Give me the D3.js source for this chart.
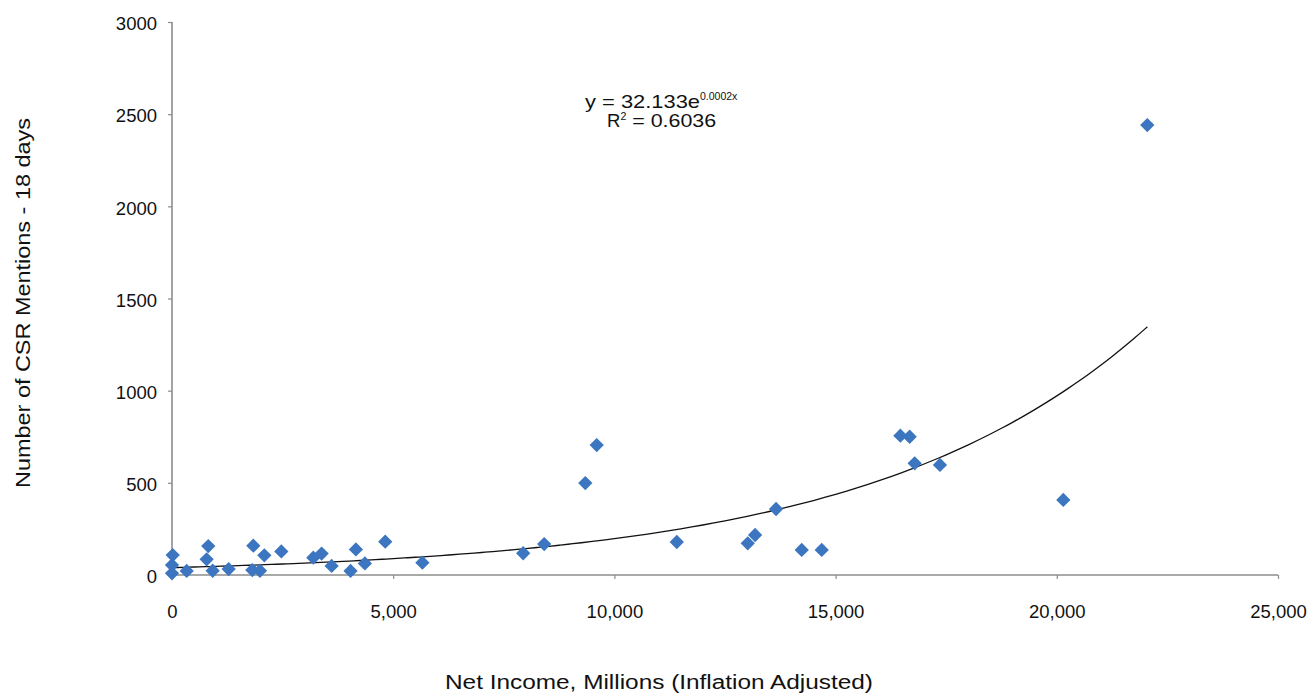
<!DOCTYPE html>
<html>
<head>
<meta charset="utf-8">
<script src="https://cdn.jsdelivr.net/npm/d3@7"></script>
<style>
  body { margin: 0; background: #fff; }
  text { font-family: "Liberation Sans", Arial, Helvetica, sans-serif; fill: #111; }
</style>
</head>
<body>
<script>
// net income (millions, inflation adjusted) and CSR mentions over 18 days
var incomeValues = [16, 0, 0, 332, 820, 783, 919, 1280, 1838, 1815, 1988, 2087, 2471,
                    3194, 3382, 3608, 4036, 4157, 4360, 4820, 5660, 7938, 8413, 9342,
                    9600, 11410, 13014, 13180, 13654, 14234, 14686, 16464, 16674, 16787,
                    17359, 20147, 22045];
var mentionValues = [108, 54, 9, 22, 157, 85, 23, 32, 159, 27, 23, 107, 128,
                     94, 116, 49, 22, 139, 63, 181, 67, 118, 168, 499,
                     705, 179, 172, 217, 358, 136, 136, 756, 750, 606,
                     597, 407, 2441];

var xTicks = [0, 5000, 10000, 15000, 20000, 25000];
var yTicks = [0, 500, 1000, 1500, 2000, 2500, 3000];

// exponential trendline y = a * e^(b x)
var trendA = 40;
var trendB = 0.0001595;

var width = 1307;
var height = 694;

var svg = d3.select('body')
            .append('svg')
            .attr('width', width)
            .attr('height', height)

var x = d3.scaleLinear().domain([0, 25000]).range([172, 1278]);
var y = d3.scaleLinear().domain([0, 3000]).range([575, 22]);

// axes
var xAxis = svg.append('g')
            .attr('transform', 'translate(0,' + y(0) + ')')
            .call(d3.axisBottom(x).tickValues(xTicks).tickSize(4).tickPadding(26)
                  .tickFormat(d3.format(',')))
var yAxis = svg.append('g')
            .attr('transform', 'translate(' + x(0) + ',0)')
            .call(d3.axisLeft(y).tickValues(yTicks).tickSize(4).tickPadding(11)
                  .tickFormat(d3.format('d')))

svg.selectAll('.domain')
   .attr('stroke', '#8c8c8c')
   .attr('stroke-width', 1.6)
svg.selectAll('.tick line')
   .attr('stroke', '#8c8c8c')
   .attr('stroke-width', 1.2)
svg.selectAll('.tick text')
   .attr('font-size', '18.5px')
   .attr('font-family', '"Liberation Sans", Arial, sans-serif')
   .attr('fill', '#111')
yAxis.selectAll('.tick text').attr('dy', '0.42em')
xAxis.select('.domain').attr('d', 'M' + x(0) + ',0H' + x(25000))
yAxis.select('.domain').attr('d', 'M0,' + y(0) + 'V' + y(3000))

// trendline
var trendX = d3.range(0, d3.max(incomeValues) + 1, 250);
trendX.push(d3.max(incomeValues));
var line = d3.line()
            .x(function(d) { return x(d); })
            .y(function(d) { return y(trendA * Math.exp(trendB * d)); })
            .curve(d3.curveMonotoneX);
svg.append('path')
   .attr('fill', 'none')
   .attr('stroke', '#111')
   .attr('stroke-width', 1.3)
   .attr('d', line(trendX))

// points
var diamond = d3.symbol().type(d3.symbolDiamond2).size(130);
svg.selectAll('path.pt')
   .data(incomeValues)
   .enter()
   .append('path')
   .attr('class', 'pt')
   .attr('d', diamond)
   .attr('transform', function(d, i) {
       return 'translate(' + x(d) + ',' + y(mentionValues[i]) + ')';
   })
   .attr('fill', '#3d76c0')

// equation labels
var eq = svg.append('text')
            .attr('x', 585)
            .attr('y', 108)
            .attr('font-size', '18.5px')
eq.append('tspan')
  .attr('textLength', 115).attr('lengthAdjust', 'spacingAndGlyphs')
  .text('y = 32.133e');
eq.append('tspan').attr('font-size', '10.5px').attr('dy', -8).text('0.0002x');

var r2 = svg.append('text')
            .attr('x', 607)
            .attr('y', 127)
            .attr('font-size', '18.5px')
r2.append('tspan').text('R');
r2.append('tspan').attr('font-size', '10.5px').attr('dy', -7).text('2');
r2.append('tspan').attr('dy', 7)
  .attr('textLength', 90).attr('lengthAdjust', 'spacingAndGlyphs')
  .text(' = 0.6036');

// axis titles
svg.append('text')
   .attr('x', 659)
   .attr('y', 689)
   .attr('text-anchor', 'middle')
   .attr('font-size', '19.5px')
   .attr('textLength', 428)
   .attr('lengthAdjust', 'spacingAndGlyphs')
   .text('Net Income, Millions (Inflation Adjusted)')

svg.append('text')
   .attr('transform', 'translate(30,303) rotate(-90)')
   .attr('text-anchor', 'middle')
   .attr('font-size', '19.5px')
   .attr('textLength', 370)
   .attr('lengthAdjust', 'spacingAndGlyphs')
   .text('Number of CSR Mentions - 18 days')
</script>
</body>
</html>
